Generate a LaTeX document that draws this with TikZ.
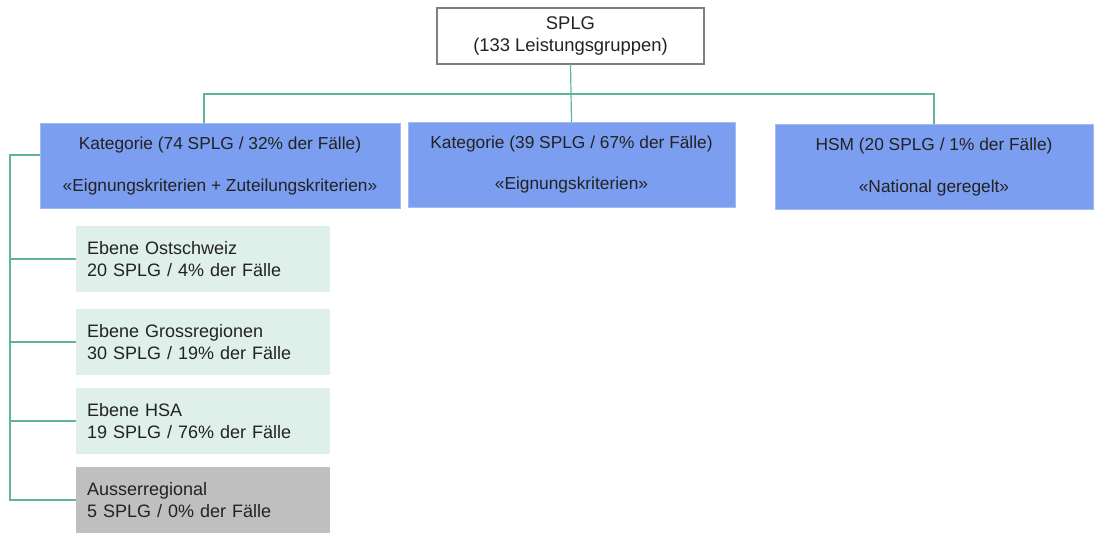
\documentclass[tikz,border=0pt]{standalone}
\usepackage{fontspec}
\setmainfont{Liberation Sans}
\definecolor{catblue}{HTML}{7B9EF0}
\definecolor{lightgreen}{HTML}{DFF0EB}
\definecolor{boxgray}{HTML}{BFBFBF}
\definecolor{linegreen}{HTML}{5FB59C}
\definecolor{bordergray}{HTML}{7F7F7F}
\definecolor{txt}{HTML}{222222}
\begin{document}
\begin{tikzpicture}[x=0.75pt,y=-0.75pt,
  every node/.style={inner sep=0pt,outer sep=0pt,text=txt},
  conn/.style={draw=linegreen,line width=0.9pt},
  rootbox/.style={draw=bordergray,line width=1.3pt,fill=white,minimum width=200.25pt,minimum height=42pt,align=center,font=\fontsize{13.8}{16.5}\selectfont},
  catbox/.style={fill=catblue,draw=catblue!70!white,line width=0.4pt,minimum height=64pt,align=center,font=\fontsize{13}{31}\selectfont},
  subbox/.style={fill=lightgreen,minimum width=190.5pt,minimum height=49.5pt,anchor=north west,text width=190.5pt,align=left,font=\fontsize{13.5}{16.5}\selectfont},
  grybox/.style={subbox,fill=boxgray}]
\useasboundingbox (0,0) rectangle (1094,532);
\node[rootbox] (root) at (570.5,36) {SPLG\\(133 Leistungsgruppen)};
\node[catbox,minimum width=270pt] (c1) at (220,166) {Kategorie (74 SPLG / 32\% der Fälle)\\«Eignungskriterien + Zuteilungskriterien»};
\node[catbox,minimum width=245.25pt] (c2) at (571.5,164.5) {Kategorie (39 SPLG / 67\% der Fälle)\\«Eignungskriterien»};
\node[catbox,minimum width=238.5pt] (c3) at (934,167) {HSM (20 SPLG / 1\% der Fälle)\\«National geregelt»};
\node[subbox] (s1) at (76,226) {\hspace*{8.25pt}Ebene Ostschweiz\\\hspace*{8.25pt}20 SPLG / 4\% der Fälle};
\node[subbox] (s2) at (76,309) {\hspace*{8.25pt}Ebene Grossregionen\\\hspace*{8.25pt}30 SPLG / 19\% der Fälle};
\node[subbox] (s3) at (76,388) {\hspace*{8.25pt}Ebene HSA\\\hspace*{8.25pt}19 SPLG / 76\% der Fälle};
\node[grybox] (s4) at (76,467) {\hspace*{8.25pt}Ausserregional\\\hspace*{8.25pt}5 SPLG / 0\% der Fälle};
\coordinate (bar) at (0,94);
\coordinate (c1top) at (204,123);
\coordinate (spine) at (10,0);
\draw[conn] (root.south) -- (c2.north);
\draw[conn] (c1top) |- (bar -| c3.north) -- (c3.north);
\draw[conn] (c1.west |- 0,155) -- (spine |- 0,155) -- (spine |- s4.west) -- (s4.west);
\draw[conn] (spine |- s1.west) -- (s1.west);
\draw[conn] (spine |- s2.west) -- (s2.west);
\draw[conn] (spine |- s3.west) -- (s3.west);
\end{tikzpicture}
\end{document}
